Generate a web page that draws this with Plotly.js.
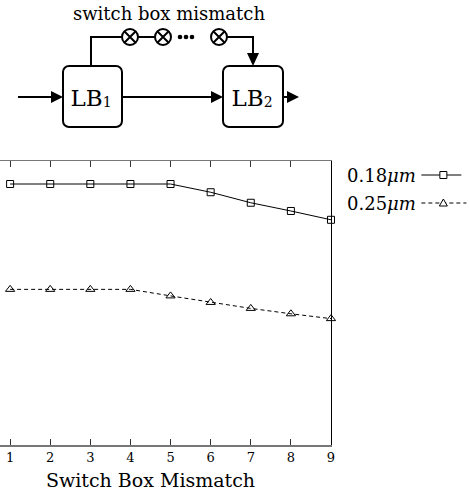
<!DOCTYPE html>
<html>
<head>
<meta charset="utf-8">
<script src="https://cdn.plot.ly/plotly-3.0.1.min.js"></script>
<style>
  html, body { margin: 0; padding: 0; background: #fff; overflow: hidden; }
  #wrap { position: relative; width: 470px; height: 495px; overflow: hidden; }
  #chart { position: absolute; left: -40px; top: 0; width: 510px; height: 495px; }
  #diagram { position: absolute; left: 0; top: 0; width: 470px; height: 140px; pointer-events: none; }
  #diagram text { font-family: 'DejaVu Serif', 'Liberation Serif', serif; fill: #000; }
</style>
</head>
<body>
<div id="wrap">
  <div id="chart"></div>
  <svg id="diagram" width="470" height="140" xmlns="http://www.w3.org/2000/svg">
    <g stroke="#000" stroke-width="2" fill="none">
      <rect x="63" y="66" width="59" height="61" rx="6" ry="6"/>
      <rect x="223" y="66" width="60" height="61" rx="6" ry="6"/>
      <line x1="18" y1="97" x2="54" y2="97"/>
      <line x1="122" y1="97" x2="214" y2="97"/>
      <line x1="283" y1="97" x2="288" y2="97"/>
      <polyline points="91,66 91,37 122,37"/>
      <line x1="138" y1="37" x2="155" y2="37"/>
      <line x1="227" y1="37" x2="253" y2="37"/>
      <line x1="253" y1="36" x2="253" y2="55"/>
      <circle cx="130" cy="37" r="8"/>
      <circle cx="163" cy="37" r="8"/>
      <circle cx="219" cy="37" r="8"/>
      <path d="M124.3,31.3 L135.7,42.7 M124.3,42.7 L135.7,31.3"/>
      <path d="M157.3,31.3 L168.7,42.7 M157.3,42.7 L168.7,31.3"/>
      <path d="M213.3,31.3 L224.7,42.7 M213.3,42.7 L224.7,31.3"/>
    </g>
    <g fill="#000">
      <polygon points="63,97 51,91 51,103"/>
      <polygon points="223,97 211,91 211,103"/>
      <polygon points="299,97 287,91 287,103"/>
      <polygon points="253,66 247,53 259,53"/>
      <circle cx="180" cy="37" r="2.3"/>
      <circle cx="186" cy="37" r="2.3"/>
      <circle cx="192" cy="37" r="2.3"/>
    </g>
    <text x="169" y="20" font-size="18" text-anchor="middle">switch box mismatch</text>
    <text x="91" y="106" font-size="23" text-anchor="middle">LB<tspan font-size="14" dy="1">1</tspan></text>
    <text x="252" y="106" font-size="23" text-anchor="middle">LB<tspan font-size="14" dy="1">2</tspan></text>
  </svg>
</div>
<script>
// Data (y in arbitrary units; the y axis is cropped out of the picture)
const mismatch = [1, 2, 3, 4, 5, 6, 7, 8, 9];
const series018 = [91.9, 91.9, 91.9, 91.9, 91.9, 89.0, 85.3, 82.4, 79.3];
const series025 = [54.8, 54.8, 54.8, 54.8, 52.5, 50.2, 48.1, 46.2, 44.5];
const seriesNames = ['0.18<i>μm</i>', '0.25<i>μm</i>'];
const xTitle = 'Switch Box Mismatch';

const serif = 'DejaVu Serif, Liberation Serif, serif';

const traces = [
  {
    x: mismatch, y: series018, type: 'scatter', mode: 'lines+markers',
    name: seriesNames[0], showlegend: false,
    line: { color: '#000', width: 1 },
    marker: { symbol: 'square-open', size: 7, color: '#000', line: { width: 1 } },
    cliponaxis: false
  },
  {
    x: mismatch, y: series025, type: 'scatter', mode: 'lines+markers',
    name: seriesNames[1], showlegend: false,
    line: { color: '#000', width: 1, dash: '4px,3px' },
    marker: { symbol: 'triangle-up-open', size: 8, color: '#000', line: { width: 1 } },
    cliponaxis: false
  }
];

// legend geometry: page pixels -> paper coords of the plot area
// (the chart div is shifted 40px left; plot area spans page x -30.1 .. 330.7, y 161 .. 445)
const plotLeft = -30.1, plotW = 360.8, plotH = 284;
const px = v => (v - plotLeft) / plotW;
const py = v => (445 - v) / plotH;

const layout = {
  width: 510, height: 495,
  margin: { l: 9.9, r: 139.3, t: 161, b: 50, pad: 0 },
  paper_bgcolor: '#fff', plot_bgcolor: '#fff',
  showlegend: false,
  font: { family: serif, color: '#000' },
  xaxis: {
    range: [0, 9], tickvals: mismatch, ticktext: mismatch.map(String),
    showgrid: false, zeroline: false,
    showline: true, linecolor: '#777', linewidth: 1.5,
    mirror: 'ticks', ticks: 'inside', ticklen: 6, tickwidth: 1, tickcolor: '#333',
    tickfont: { family: serif, size: 13, color: '#000' },
    title: { text: xTitle, font: { family: serif, size: 19, color: '#000' }, standoff: 9 }
  },
  yaxis: {
    range: [0, 100], side: 'right',
    showgrid: false, zeroline: false, showticklabels: false, ticks: '',
    showline: true, linecolor: '#000', linewidth: 1
  },
  annotations: [
    { xref: 'paper', yref: 'paper', x: px(345), y: py(175), xanchor: 'left', yanchor: 'middle',
      text: seriesNames[0], showarrow: false, font: { family: serif, size: 18, color: '#000' } },
    { xref: 'paper', yref: 'paper', x: px(345), y: py(203), xanchor: 'left', yanchor: 'middle',
      text: seriesNames[1], showarrow: false, font: { family: serif, size: 18, color: '#000' } }
  ],
  shapes: [
    { type: 'line', xref: 'paper', yref: 'paper', x0: px(421), x1: px(461), y0: py(175), y1: py(175),
      line: { color: '#000', width: 1 } },
    { type: 'rect', xref: 'paper', yref: 'paper', xsizemode: 'pixel', ysizemode: 'pixel',
      xanchor: px(443), yanchor: py(175), x0: -3.5, x1: 3.5, y0: -3.5, y1: 3.5,
      line: { color: '#000', width: 1 }, fillcolor: '#fff' },
    { type: 'line', xref: 'paper', yref: 'paper', x0: px(421), x1: px(466), y0: py(203), y1: py(203),
      line: { color: '#000', width: 1, dash: '4px,3px' } },
    { type: 'path', xref: 'paper', yref: 'paper', xsizemode: 'pixel', ysizemode: 'pixel',
      xanchor: px(443), yanchor: py(203), path: 'M-4,-3 L4,-3 L0,4 Z',
      line: { color: '#000', width: 1 }, fillcolor: '#fff' }
  ]
};

Plotly.newPlot('chart', traces, layout, { displayModeBar: false, staticPlot: true });
</script>
</body>
</html>
